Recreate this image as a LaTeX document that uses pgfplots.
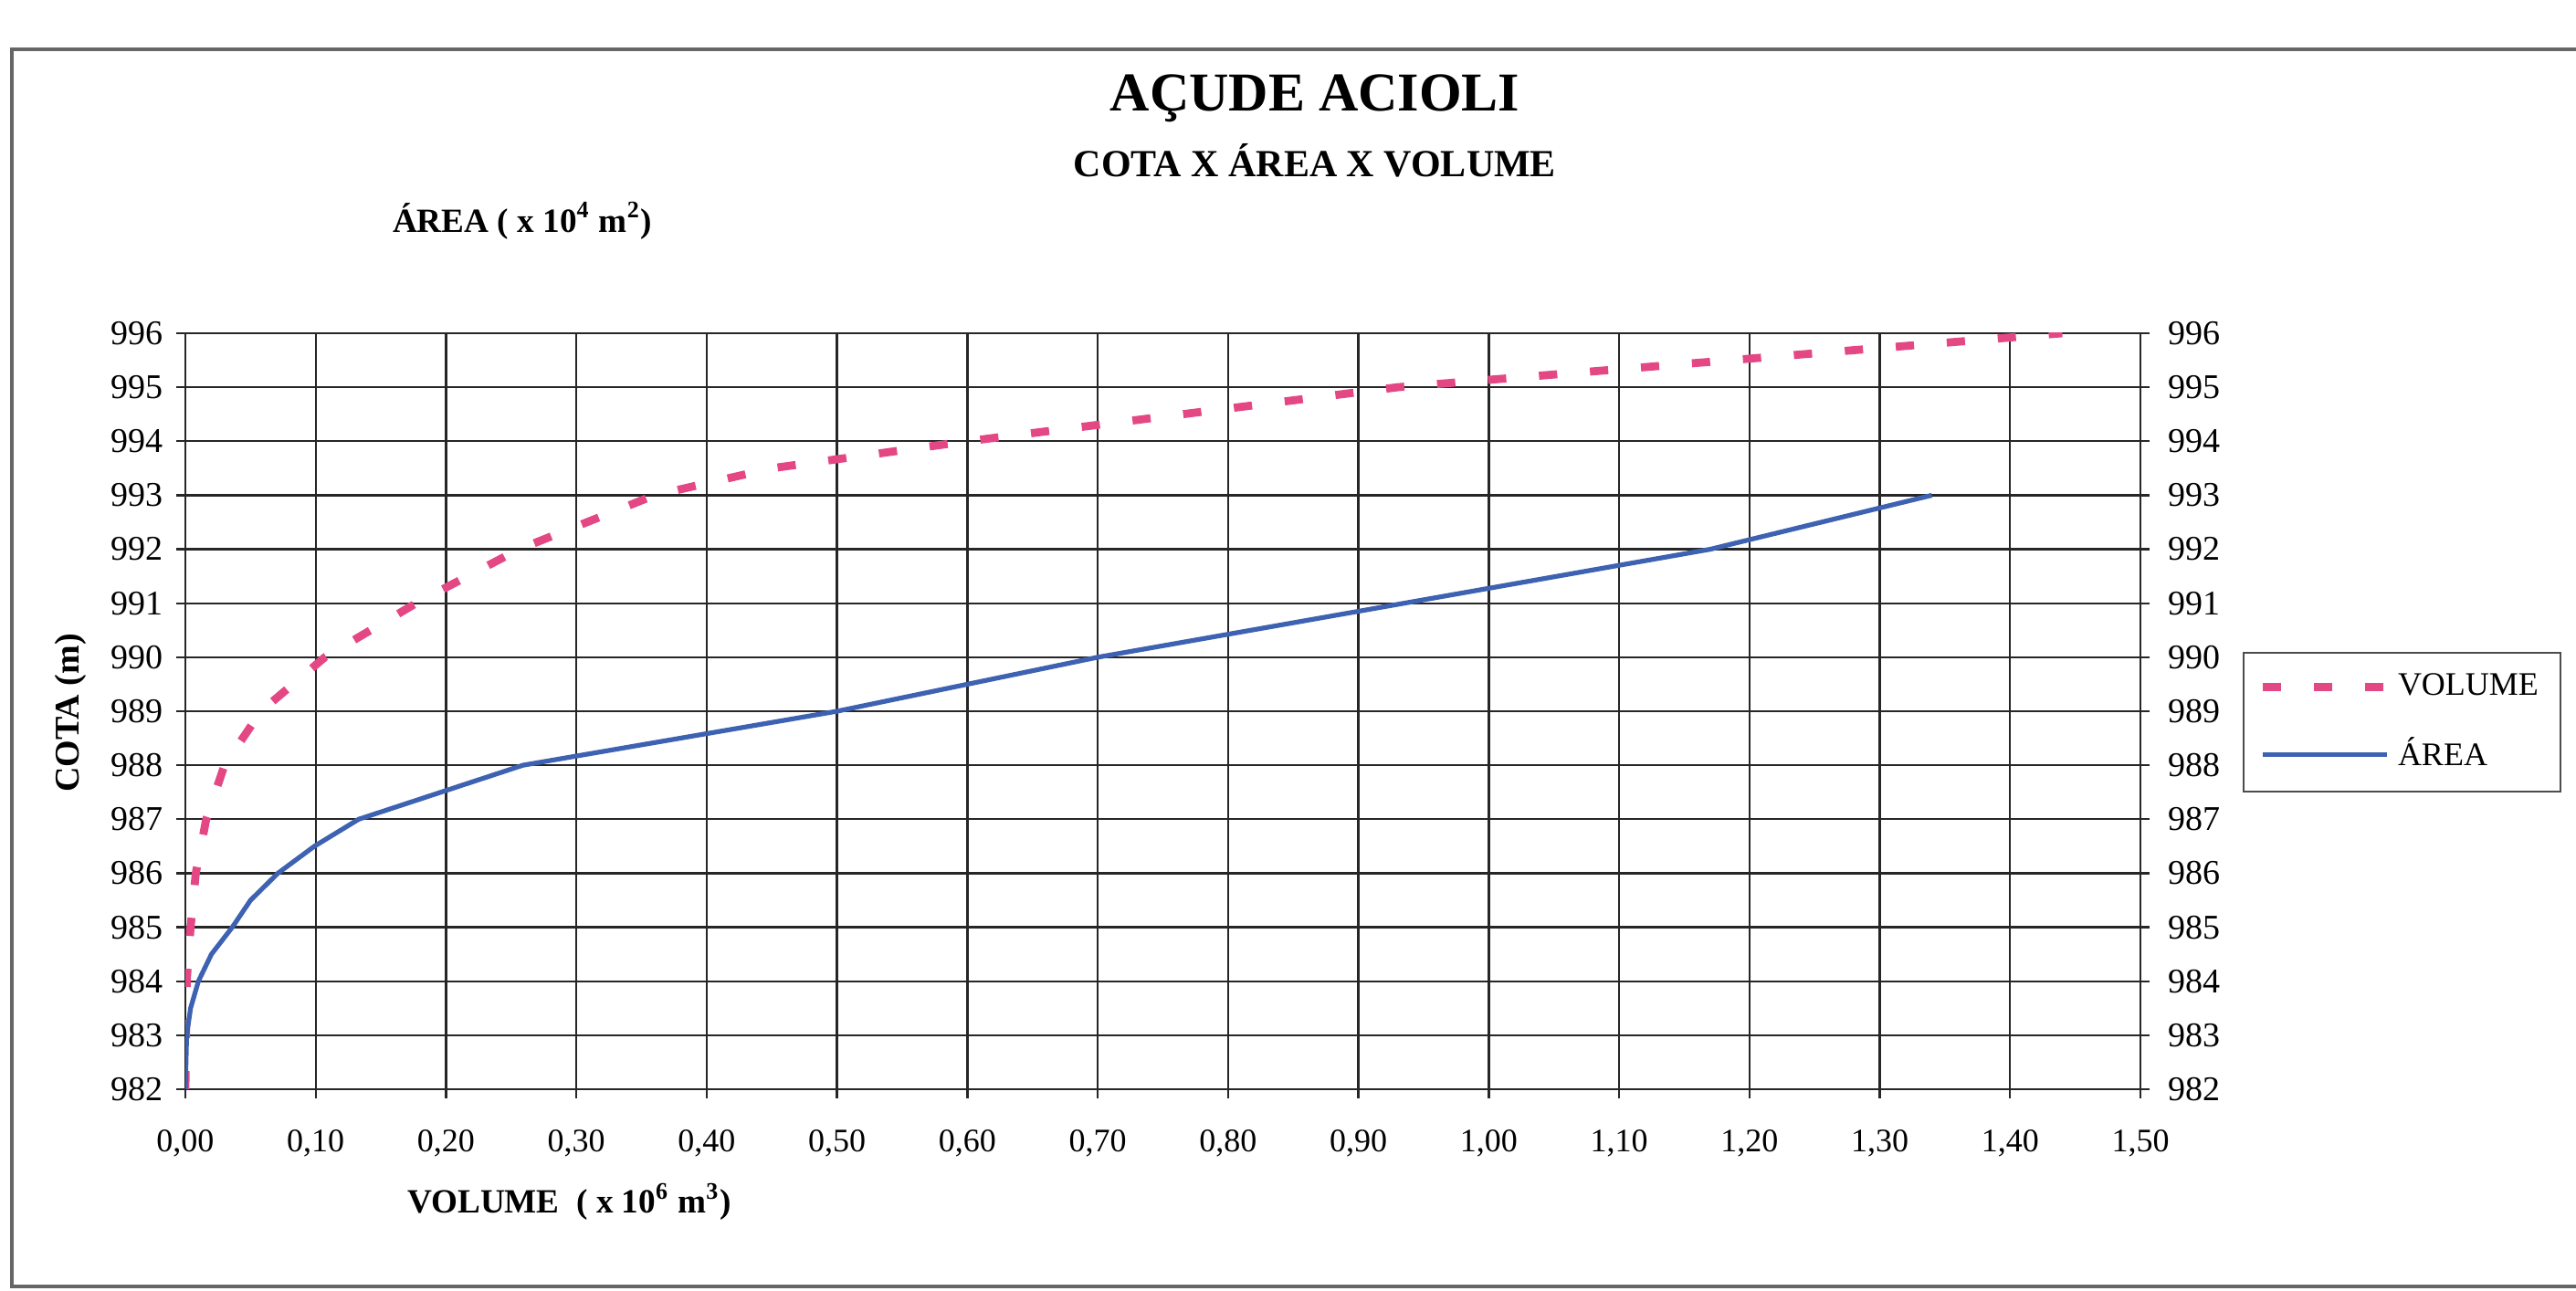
\documentclass[border=0pt]{standalone}
\usepackage{pgfplots}
\pgfplotsset{compat=1.18}
\usepackage{fontspec}
\setmainfont{Liberation Serif}
\definecolor{volpink}{RGB}{228,72,132}
\definecolor{areablue}{RGB}{62,98,178}

\begin{document}
\begin{tikzpicture}[x=1pt,y=1pt]
\useasboundingbox (0,0) rectangle (705.25,353.5);
\draw[black!60, line width=0.8pt] (3.25,1.25) rectangle (720,340);
\node[font=\bfseries\fontsize{15}{18}\selectfont] at (360,326.5) {AÇUDE ACIOLI};
\node[font=\bfseries\fontsize{10.5}{12}\selectfont] at (360,309.5) {COTA X ÁREA X VOLUME};
\node[font=\bfseries\fontsize{9.3}{11}\selectfont, anchor=west] at (104,293) {ÁREA ( x 10$^{\mathbf 4}$ m$^{\mathbf 2}$)};
\node[font=\bfseries\fontsize{9.3}{11}\selectfont, anchor=west] at (108,24.5) {VOLUME \ ( x 10$^{\mathbf 6}$ m$^{\mathbf 3}$)};
\node[font=\bfseries\fontsize{9.5}{11}\selectfont, rotate=90] at (19.25,158.25) {COTA (m)};

\begin{axis}[
  at={(50.75pt,55.25pt)}, anchor=south west,
  scale only axis, width=535.25pt, height=207pt,
  xmin=0, xmax=1.5, ymin=982, ymax=996,
  xtick={0,0.1,0.2,0.3,0.4,0.5,0.6,0.7,0.8,0.9,1.0,1.1,1.2,1.3,1.4,1.5},
  ytick={982,983,984,985,986,987,988,989,990,991,992,993,994,995,996},
  xtick pos=bottom, ytick pos=left,
  tick align=outside, major tick length=2.5pt,
  grid=major,
  major grid style={black!85, line width=0.6pt},
  axis line style={black!85, line width=0.6pt},
  tick style={black!85, line width=0.6pt},
  /pgf/number format/assume math mode=true,
  x tick label style={font=\fontsize{9}{10}\selectfont, /pgf/number format/fixed, /pgf/number format/fixed zerofill,
    /pgf/number format/precision=2, /pgf/number format/use comma, yshift=-5pt},
  y tick label style={font=\fontsize{9.5}{10}\selectfont, /pgf/number format/set thousands separator={}},
  legend style={at={(1.0523,0.5785)}, anchor=north west, draw=black!70, line width=0.6pt,
    font=\fontsize{9}{10}\selectfont, row sep=6.2pt, inner xsep=4pt, inner ysep=3.5pt,
    cells={anchor=west}},
  legend image code/.code={\draw[#1] (0pt,0pt) -- (34pt,0pt);},
]
\addplot[volpink, line width=2.2pt, dash pattern=on 5pt off 9pt] coordinates {
(0,982) (0.0005,983) (0.001,984) (0.004,985) (0.008,986) (0.016,987) (0.030,988)
(0.058,989) (0.107,990) (0.177,991) (0.256,992) (0.36,993) (0.45,993.5) (0.60,994)
(0.93,995) (1.44,996)};
\addlegendentry{VOLUME}
\addplot[areablue, line width=1.3pt] coordinates {
(0,982) (0.001,983) (0.004,983.5) (0.010,984) (0.020,984.5) (0.036,985) (0.050,985.5)
(0.071,986) (0.099,986.5) (0.133,987) (0.259,988) (0.50,989) (0.70,990) (0.935,991)
(1.17,992) (1.34,993)};
\addlegendentry{ÁREA}
\end{axis}

\begin{axis}[
  at={(50.75pt,55.25pt)}, anchor=south west,
  scale only axis, width=535.25pt, height=207pt,
  xmin=0, xmax=1.5, ymin=982, ymax=996,
  axis x line=none, axis y line*=right,
  ytick={982,983,984,985,986,987,988,989,990,991,992,993,994,995,996},
  tick align=outside, major tick length=2.5pt,
  axis line style={black!85, line width=0.6pt},
  tick style={black!85, line width=0.6pt},
  /pgf/number format/assume math mode=true,
  y tick label style={font=\fontsize{9.5}{10}\selectfont, /pgf/number format/set thousands separator={}, xshift=1.5pt},
]
\end{axis}
\end{tikzpicture}
\end{document}
